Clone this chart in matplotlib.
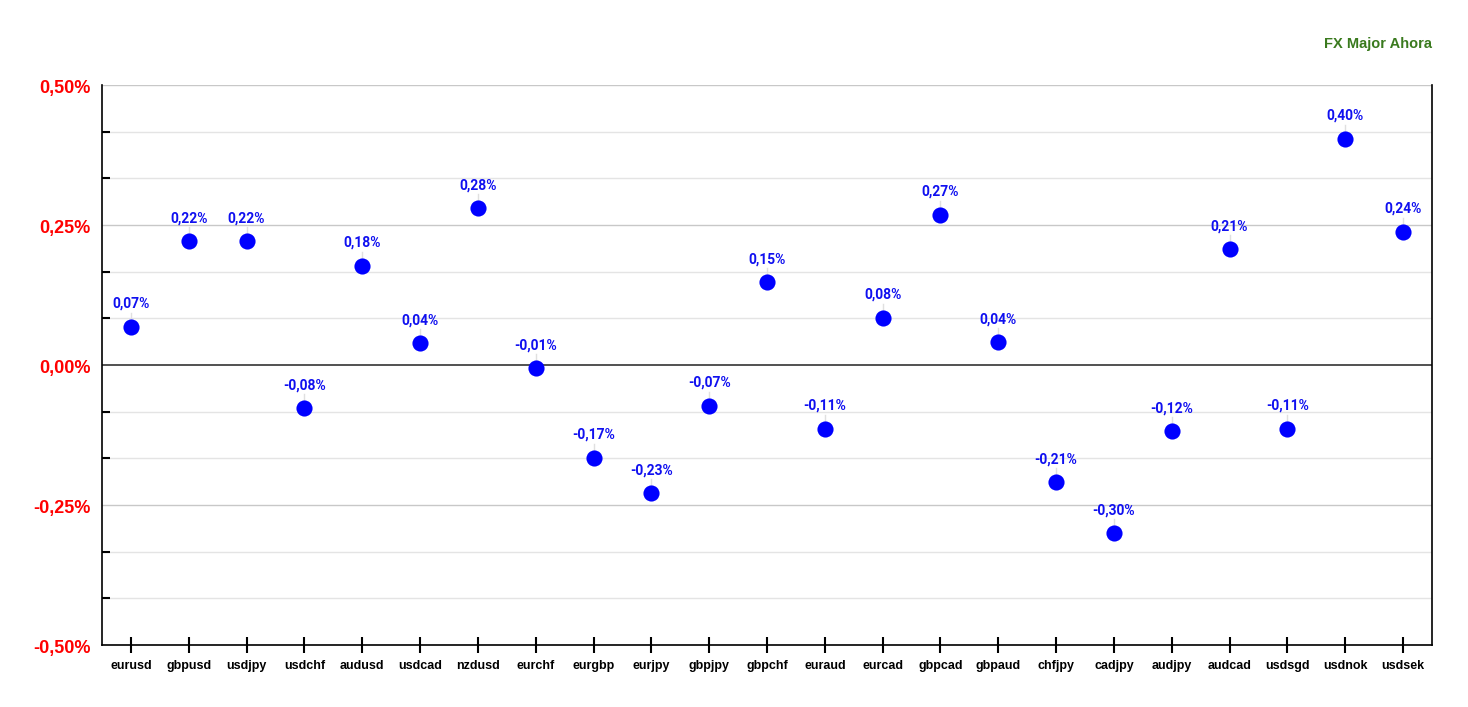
import matplotlib
matplotlib.use("Agg")
import matplotlib.pyplot as plt
import matplotlib.transforms as mtransforms
from matplotlib.ticker import FixedLocator, MultipleLocator, FuncFormatter
import numpy as np

categories = ["eurusd", "gbpusd", "usdjpy", "usdchf", "audusd", "usdcad", "nzdusd",
              "eurchf", "eurgbp", "eurjpy", "gbpjpy", "gbpchf", "euraud", "eurcad",
              "gbpcad", "gbpaud", "chfjpy", "cadjpy", "audjpy", "audcad", "usdsgd",
              "usdnok", "usdsek"]
values = [0.068, 0.221, 0.221, -0.077, 0.177, 0.039, 0.280,
          -0.006, -0.166, -0.229, -0.073, 0.148, -0.114, 0.084,
          0.268, 0.041, -0.209, -0.300, -0.118, 0.207, -0.114,
          0.404, 0.238]
title_text = "FX Major Ahora"
y_major = [-0.50, -0.25, 0.0, 0.25, 0.50]

W, H = 1468, 707
fig = plt.figure(figsize=(W / 100, H / 100), dpi=100)
ax = fig.add_axes([102 / W, 1 - 645 / H, (1432 - 102) / W, (645 - 85) / H])

x = np.arange(len(categories))
ax.set_xlim(-0.5, len(categories) - 0.5)
ax.set_ylim(-0.5, 0.5)

# grid
for v in np.arange(-0.5, 0.5001, 0.25 / 3):
    if abs(v) < 1e-9:
        continue
    is_major = any(abs(v - m) < 1e-6 for m in y_major)
    ax.axhline(v, color="#c8c8c8" if is_major else "#e4e4e4", lw=1, zorder=0)
ax.axhline(0, color="#333333", lw=1.2, zorder=1)

# leader lines and points
for xi, v in zip(x, values):
    ax.plot([xi, xi], [v, v + 0.025], color="#e0e0e0", lw=1, zorder=1)
ax.scatter(x, values, s=135, color="#0000ff", zorder=3, linewidths=0)
for xi, v in zip(x, values):
    lbl = f"{v:.2f}".replace(".", ",") + "%"
    ax.annotate(lbl, (xi, v), xytext=(0, 16.5), textcoords="offset points",
                ha="center", va="center", color="#1010f0", fontsize=10,
                fontweight="bold", family="Roboto", zorder=4)

ax.yaxis.set_major_locator(FixedLocator(y_major))
ax.yaxis.set_minor_locator(MultipleLocator(0.25 / 3))
ax.yaxis.set_major_formatter(FuncFormatter(lambda v, p: f"{v:.2f}".replace(".", ",").replace("-0,00", "0,00") + "%"))
ax.tick_params(axis="y", which="major", length=0, pad=8, labelsize=13, labelcolor="#ff0000")
ax.tick_params(axis="y", which="minor", direction="in", length=6, width=1.5, color="black")
shift = mtransforms.ScaledTranslation(0, -1.5 / 100, fig.dpi_scale_trans)
for t in ax.get_yticklabels():
    t.set_fontweight("bold")
    t.set_family("Liberation Sans")
    t.set_transform(t.get_transform() + shift)

ax.set_xticks(x)
ax.set_xticklabels(categories, fontsize=9, fontweight="bold", family="Liberation Sans")
ax.tick_params(axis="x", direction="inout", length=12, width=1.5, pad=4.5, color="black")

for s in ["left", "bottom", "right"]:
    ax.spines[s].set_color("black")
    ax.spines[s].set_linewidth(1.2)
ax.spines["top"].set_visible(False)

fig.text(1432 / W, 1 - 44 / H, title_text, ha="right", va="center", color="#3a7a1e",
         fontsize=10.5, fontweight="bold", family="Liberation Sans")

fig.savefig("out.png", dpi=100)
